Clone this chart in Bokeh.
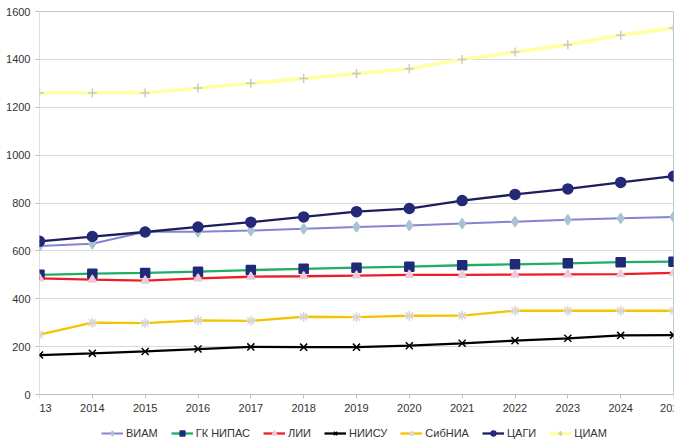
from bokeh.plotting import figure
from bokeh.models import Range1d, Legend, LegendItem, Span, FixedTicker
from bokeh.embed import file_html
from bokeh.resources import INLINE

years = [2013, 2014, 2015, 2016, 2017, 2018, 2019, 2020, 2021, 2022, 2023, 2024, 2025]
viam = [620, 630, 680, 680, 685, 692, 700, 706, 714, 722, 730, 736, 742]
nipas = [500, 505, 508, 513, 520, 525, 530, 534, 540, 544, 548, 553, 555]
lii = [485, 480, 476, 485, 492, 494, 497, 500, 500, 501, 502, 503, 508]
niisu = [165, 172, 180, 190, 199, 198, 198, 204, 214, 225, 235, 247, 248]
sibnia = [250, 300, 298, 310, 308, 325, 323, 329, 330, 350, 350, 350, 350]
tsagi = [640, 660, 679, 700, 720, 742, 764, 777, 810, 836, 859, 886, 912]
tsiam = [1260, 1260, 1260, 1280, 1300, 1320, 1341, 1361, 1400, 1431, 1461, 1501, 1531]
y_ticks = [0, 200, 400, 600, 800, 1000, 1200, 1400, 1600]

series = [
    ("ВИАМ", viam, "#8484D0", 2.0, "diamond", "#A9C3D1", 10),
    ("ГК НИПАС", nipas, "#1FAE64", 2.3, "square", "#1F2A78", 9),
    ("ЛИИ", lii, "#EE1C25", 2.3, "triangle", "#EEC9DA", 8),
    ("НИИСУ", niisu, "#000000", 2.3, "x", "#000000", 10),
    ("СибНИА", sibnia, "#F5C400", 2.3, "asterisk", "#D6D6D6", 10),
    ("ЦАГИ", tsagi, "#1E1E5C", 2.3, "circle", "#242A78", 10),
    ("ЦИАМ", tsiam, "#FFFFA0", 3.4, "cross", "#C4CBC4", 9),
]

# frame extends below zero to hold the legend underneath the x axis
BELOW = -192

p = figure(frame_width=634, frame_height=429,
           output_backend="svg", toolbar_location=None,
           x_range=Range1d(years[0], years[-1]), y_range=Range1d(BELOW, y_ticks[-1]),
           min_border_left=39, min_border_right=11, min_border_top=11, min_border_bottom=0)
p.outline_line_color = None
p.background_fill_color = "white"
p.border_fill_color = "white"

p.ygrid.grid_line_color = "#D9D9D9"
p.ygrid.grid_line_width = 1
p.xgrid.grid_line_color = None

items = []
for name, vals, lc, lw, mk, mc, ms in series:
    r1 = p.line(years, vals, line_color=lc, line_width=lw)
    r2 = p.scatter(years, vals, marker=mk, size=ms, fill_color=mc, line_color=mc, line_width=1.5)
    items.append(LegendItem(label=name, renderers=[r1, r2]))

# left axis line (0..max), right and top frame edges
p.segment(x0=[years[0]], y0=[y_ticks[0]], x1=[years[0]], y1=[y_ticks[-1]],
          line_color="#BFBFBF", line_width=1, level="underlay")
p.segment(x0=[years[-1]], y0=[y_ticks[0]], x1=[years[-1]], y1=[y_ticks[-1]],
          line_color="#6E9C9A", line_width=1, level="underlay")
p.add_layout(Span(location=y_ticks[-1], dimension="width", line_color="#6E9C9A", line_width=1))

p.xaxis.ticker = FixedTicker(ticks=years)
p.yaxis.ticker = FixedTicker(ticks=y_ticks)
p.xaxis.fixed_location = 0
for ax in (p.xaxis[0], p.yaxis[0]):
    ax.axis_line_color = "#BFBFBF"
    ax.major_tick_line_color = "#BFBFBF"
    ax.major_tick_out = 4
    ax.major_tick_in = 0
    ax.minor_tick_line_color = None
    ax.major_label_text_font = "Liberation Sans"
    ax.major_label_text_font_size = "11px"
    ax.major_label_text_color = "#333333"
p.yaxis.axis_line_color = None
p.xaxis.major_label_standoff = 5
p.yaxis.major_label_standoff = 5

legend = Legend(items=items, orientation="horizontal", location=(62, 1),
                label_text_font="Liberation Sans", label_text_font_size="11px",
                label_text_color="#333333", glyph_width=22, glyph_height=12,
                spacing=13, label_standoff=3, padding=0, margin=0,
                border_line_color=None, background_fill_alpha=0)
p.add_layout(legend, "center")

open("out.html", "w").write(file_html(p, INLINE))
